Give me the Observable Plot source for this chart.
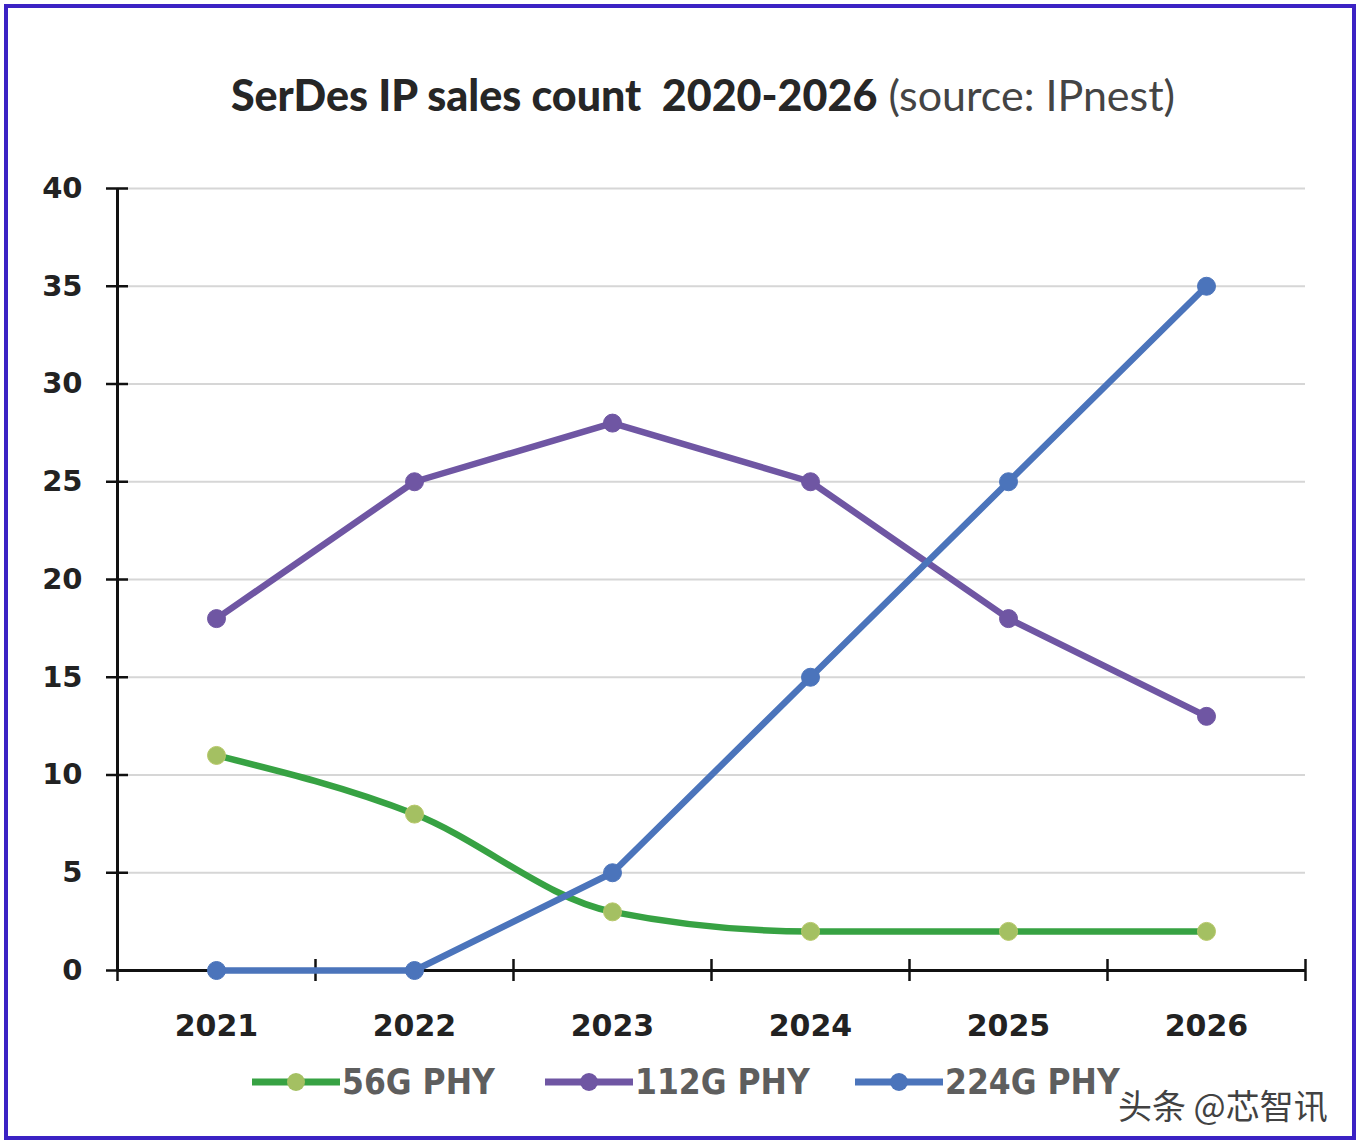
<!DOCTYPE html>
<html>
<head>
<meta charset="utf-8">
<script src="https://cdn.jsdelivr.net/npm/d3@7"></script>
<script src="https://cdn.jsdelivr.net/npm/@observablehq/plot@0.6"></script>
<style>
  html, body { margin: 0; padding: 0; background: #fff; }
  #frame { position: absolute; left: 4px; top: 4px; width: 1344px; height: 1128px; border: 4px solid #3b22c4; background: #fff; }
  #title { position: absolute; left: 0; width: 1406px; top: 69px; text-align: center; color: #262626; font-family: Lato, "Open Sans", sans-serif; font-size: 43px; white-space: nowrap; }
  #title b { font-weight: 900; }
  #title span { font-weight: 400; color: #444; }
  #chart { position: absolute; left: 0; top: 150px; }
  #legend { position: absolute; top: 1060px; left: 0; width: 1360px; height: 50px; font-family: "DejaVu Sans Condensed", "DejaVu Sans", sans-serif; font-weight: bold; font-size: 35px; color: #5e5e5e; }
  .item { position: absolute; display: flex; align-items: center; }
  .item svg { margin-right: 2px; }
  #wm { position: absolute; left: 1118px; top: 1080px; font-family: "Noto Sans CJK SC", sans-serif; font-size: 34px; color: #222; opacity: 0.85; }
</style>
</head>
<body>
<div id="frame"></div>
<div id="title"><b>SerDes IP sales count&nbsp; 2020-2026</b> <span>(source: IPnest)</span></div>
<div id="chart"></div>
<div id="legend"></div>
<div id="wm">头条 @芯智讯</div>
<script>
const years = [2021, 2022, 2023, 2024, 2025, 2026];
const phy56 = [11, 8, 3, 2, 2, 2];
const phy112 = [18, 25, 28, 25, 18, 13];
const phy224 = [0, 0, 5, 15, 25, 35];
const seriesNames = ["56G PHY", "112G PHY", "224G PHY"];
const lineColors = ["#37a243", "#6f56a3", "#4b74bb"];
const markerColors = ["#a4c062", "#6f56a3", "#4b74bb"];
const yTicks = [0, 5, 10, 15, 20, 25, 30, 35, 40];
const xBounds = [2020.5, 2021.5, 2022.5, 2023.5, 2024.5, 2025.5, 2026.5];

const allSeries = [phy56, phy112, phy224];
const rows = [];
allSeries.forEach((vals, i) => vals.forEach((v, j) => rows.push({year: years[j], value: v, series: seriesNames[i], idx: i})));

const marks = [
  Plot.gridY(yTicks, {stroke: "#d6d6d6", strokeOpacity: 1, strokeWidth: 2}),
  Plot.axisY(yTicks, {tickSize: 0, tickPadding: 35, fontSize: 29, fontWeight: "bold", fill: "#222", fontFamily: "DejaVu Sans", label: null}),
  Plot.axisY(yTicks, {tickSize: 22, dx: 11, tickFormat: () => "", stroke: "#111", strokeWidth: 2.5, label: null}),
  Plot.axisX(years, {tickSize: 0, tickPadding: 44, fontSize: 30, fontWeight: "bold", fill: "#222", fontFamily: "DejaVu Sans", tickFormat: d => String(d), label: null}),
  Plot.axisX(xBounds, {tickSize: 22, dy: -11, tickFormat: () => "", stroke: "#111", strokeWidth: 2.5, label: null}),
  Plot.ruleX([xBounds[0]], {y1: 0, y2: 40, stroke: "#111", strokeWidth: 3}),
  Plot.ruleY([0], {x1: xBounds[0], x2: xBounds[xBounds.length - 1], stroke: "#111", strokeWidth: 3})
];
seriesNames.forEach((name, i) => {
  const data = rows.filter(r => r.idx === i);
  marks.push(Plot.line(data, {x: "year", y: "value", stroke: lineColors[i], strokeWidth: 6.5, curve: i === 0 ? "monotone-x" : "linear"}));
});
seriesNames.forEach((name, i) => {
  const data = rows.filter(r => r.idx === i);
  marks.push(Plot.dot(data, {x: "year", y: "value", r: 9, fill: markerColors[i], stroke: i === 0 ? "#b8c86a" : markerColors[i], strokeWidth: 1}));
});

const chart = Plot.plot({
  width: 1360,
  height: 900,
  marginTop: 38,
  marginBottom: 80,
  marginLeft: 117,
  marginRight: 55,
  x: {domain: [xBounds[0], xBounds[xBounds.length - 1]], axis: null},
  y: {domain: [0, 40], axis: null},
  style: {background: "transparent", overflow: "visible"},
  marks
});
document.getElementById("chart").appendChild(chart);

// legend
const legend = document.getElementById("legend");
const lx = [252, 545, 855];
seriesNames.forEach((name, i) => {
  const it = document.createElement("div");
  it.className = "item";
  it.style.left = lx[i] + "px";
  it.style.top = "0px";
  it.innerHTML = `<svg width="88" height="44"><line x1="0" y1="22" x2="88" y2="22" stroke="${lineColors[i]}" stroke-width="7"/><circle cx="44" cy="22" r="9" fill="${markerColors[i]}"/></svg><span>${name}</span>`;
  legend.appendChild(it);
});
</script>
</body>
</html>
